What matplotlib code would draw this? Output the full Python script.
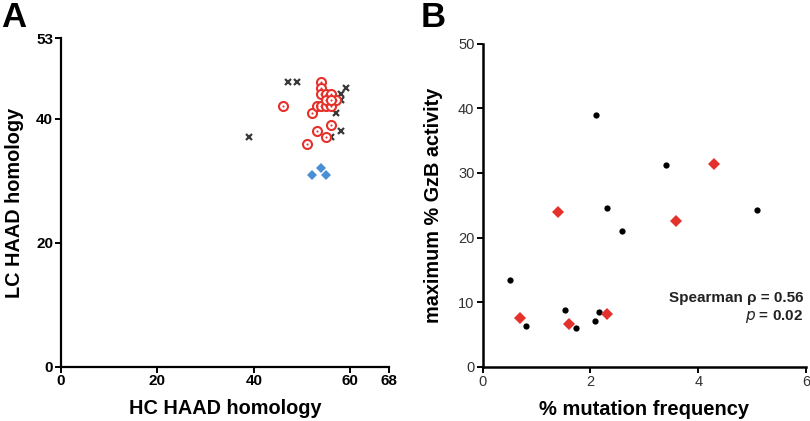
import matplotlib.pyplot as plt

plt.rcParams['font.family'] = ['Liberation Sans', 'DejaVu Sans']

# panel A: HC vs LC HAAD homology
cross_hc = [47, 49, 39, 59, 58, 58, 57, 58, 56, 56]
cross_lc = [46, 46, 37, 45, 44, 43, 41, 38, 37, 44]
circ_hc = [46, 52, 53, 54, 55, 56, 54, 54, 54, 55, 56, 55, 57, 56, 56, 53, 55, 51]
circ_lc = [42, 41, 42, 42, 42, 42, 46, 45, 44, 44, 44, 43, 43, 43, 39, 38, 37, 36]
diam_hc = [52, 54, 55]
diam_lc = [31, 32, 31]

# panel B: mutation frequency vs GzB activity
dot_freq = [0.5, 0.8, 1.53, 1.73, 2.08, 2.16, 2.10, 2.30, 2.59, 3.40, 5.10]
dot_gzb = [13.5, 6.35, 8.8, 6.0, 7.0, 8.4, 38.9, 24.5, 21.0, 31.3, 24.3]
red_freq = [0.69, 1.39, 1.61, 2.30, 3.59, 4.30]
red_gzb = [7.6, 23.9, 6.6, 8.1, 22.5, 31.4]

red = '#e5312b'
blue = '#4a8fd3'
grey = '#3a3a3a'

fig = plt.figure(figsize=(8.1, 4.21), dpi=100)

# ---- A ----
axA = fig.add_axes([0.0749, 0.129, 0.4053, 0.780])
axA.plot(cross_hc, cross_lc, 'x', color=grey, ms=4.5, mew=1.6, zorder=2)
axA.plot(circ_hc, circ_lc, 'o', mfc='white', mec=red, ms=6.5, mew=1.5, zorder=3)
axA.plot(circ_hc, circ_lc, 'o', color=red, ms=1.5, mew=0, zorder=4)
axA.plot(diam_hc, diam_lc, 'D', color=blue, ms=5.5, mew=0, zorder=3)
axA.set_xlim(0, 68)
axA.set_ylim(0, 53)
axA.set_xticks([0, 20, 40, 60, 68])
axA.set_yticks([0, 20, 40, 53])
axA.spines[['top', 'right']].set_visible(False)
for s in ['left', 'bottom']:
    axA.spines[s].set_linewidth(1.6)
axA.tick_params(width=1.4, length=4, labelsize=11, pad=1.5)
for lab in axA.get_xticklabels() + axA.get_yticklabels():
    lab.set_fontweight('bold')
axA.set_xlabel('HC HAAD homology', fontsize=14.3, fontweight='bold', labelpad=8)
axA.set_ylabel('LC HAAD homology', fontsize=14.3, fontweight='bold', labelpad=9)
fig.text(0.002, 0.998, 'A', fontsize=25, fontweight='heavy', va='top', ha='left')

# ---- B ----
axB = fig.add_axes([0.5959, 0.129, 0.3991, 0.767])
axB.plot(dot_freq, dot_gzb, 'o', color='black', ms=4.5, mew=0)
axB.plot(red_freq, red_gzb, 'D', color=red, ms=6.5, mew=0)
axB.set_xlim(0, 6)
axB.set_ylim(0, 50)
axB.set_xticks([0, 2, 4, 6])
axB.set_yticks([0, 10, 20, 30, 40, 50])
axB.spines[['top', 'right']].set_visible(False)
for s in ['left', 'bottom']:
    axB.spines[s].set_linewidth(1.8)
axB.tick_params(width=1.4, length=4, labelsize=10.5, labelcolor='#333333', pad=2)
axB.set_xlabel('% mutation frequency', fontsize=14.5, fontweight='bold', labelpad=8)
axB.set_ylabel('maximum % GzB activity', fontsize=14.3, fontweight='bold', labelpad=11)
axB.text(5.95, 10.7, 'Spearman ρ = 0.56', fontsize=11, fontweight='bold',
         color='#222222', ha='right', va='center')
axB.text(5.95, 7.8, '$\\bf{\\it{p}}$ = 0.02', fontsize=11, fontweight='bold',
         color='#222222', ha='right', va='center')
fig.text(0.519, 0.998, 'B', fontsize=25, fontweight='heavy', va='top', ha='left')

fig.savefig('out.png', dpi=100)
